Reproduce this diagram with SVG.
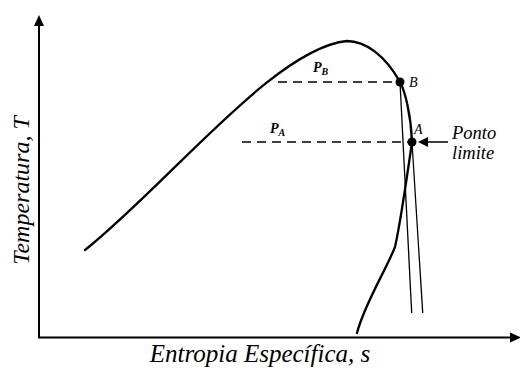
<svg xmlns="http://www.w3.org/2000/svg" width="520" height="369" viewBox="0 0 520 369">
<style>
.axis{stroke:#000;stroke-width:2;fill:none}
.thick{stroke:#000;stroke-width:2.3;fill:none;stroke-linecap:round}
.thin{stroke:#000;stroke-width:1.3;fill:none}
.dash{stroke:#000;stroke-width:1.5;fill:none;stroke-dasharray:9 6}
text{font-family:'Liberation Serif','Times New Roman',serif;font-style:italic;fill:#000}
.b{font-weight:bold}
</style>
<rect width="520" height="369" fill="#fff"/>
<g id="axes">
<line class="axis" x1="39" y1="24" x2="39" y2="338"/>
<polygon points="39,15 34,26 44,26" fill="#000"/>
<line class="axis" x1="38" y1="337.5" x2="512" y2="337.5"/>
<polygon points="521,337.5 510,332.5 510,342.5" fill="#000"/>
<text x="260" y="362" font-size="25" text-anchor="middle">Entropia Específica, s</text>
<text font-size="24" text-anchor="middle" transform="translate(29,190.5) rotate(-90)">Temperatura, T</text>
</g>
<g id="connectors">
<path class="thick" d="M85,250 C170,182 275,48 347,41 C365,41 385,55 400,82 C405,91 411,115 412,142 C408,170 400,225 395,247 C386,270 364,305 357,333"/>
<line class="thin" x1="400" y1="82" x2="411.7" y2="313"/>
<line class="thin" x1="412" y1="142" x2="422.7" y2="313"/>
<line class="dash" x1="278" y1="82" x2="400" y2="82"/>
<line class="dash" x1="242" y1="142" x2="412" y2="142"/>
<line stroke="#000" stroke-width="1.5" x1="448" y1="142" x2="425" y2="142"/>
<polygon points="418,142 428,137 428,147" fill="#000"/>
</g>
<g id="pointB">
<circle cx="400" cy="82" r="4.5" fill="#000"/>
<text x="409" y="87" font-size="14">B</text>
<text class="b" x="313" y="72" font-size="14">P<tspan font-size="10" dy="3">B</tspan></text>
</g>
<g id="pointA">
<circle cx="412" cy="142" r="4.5" fill="#000"/>
<text x="414" y="134" font-size="14">A</text>
<text class="b" x="270" y="133" font-size="14">P<tspan font-size="10" dy="3">A</tspan></text>
</g>
<g id="label-ponto">
<text x="452" y="139" font-size="18.5">Ponto</text>
<text x="452" y="159" font-size="18.5">limite</text>
</g>
</svg>
